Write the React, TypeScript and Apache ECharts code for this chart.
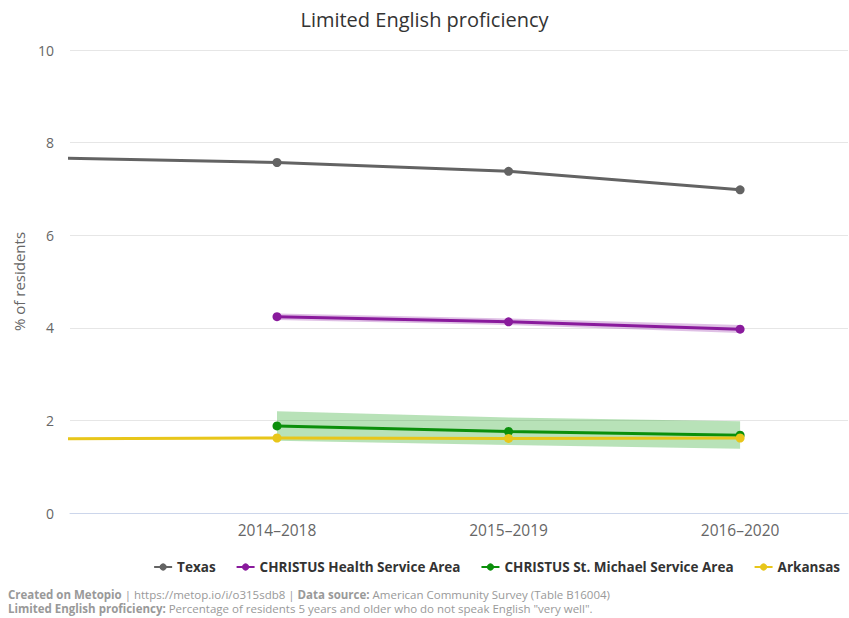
import React, { useEffect, useRef } from "react";
import * as echarts from "echarts";

const categories = ["2013–2017", "2014–2018", "2015–2019", "2016–2020"];
const texas = [7.67, 7.57, 7.38, 6.98];
const healthArea = [null, 4.24, 4.13, 3.97];
const healthLow = [null, 4.17, 4.06, 3.89];
const healthHigh = [null, 4.31, 4.2, 4.06];
const stMichael = [null, 1.88, 1.76, 1.68];
const stMichaelLow = [null, 1.56, 1.47, 1.39];
const stMichaelHigh = [null, 2.2, 2.06, 1.98];
const arkansas = [1.6, 1.62, 1.61, 1.62];
const arkansasLow = [1.58, 1.6, 1.59, 1.6];
const arkansasHigh = [1.62, 1.64, 1.63, 1.64];
const yTicks = [0, 2, 4, 6, 8, 10];

const FONT = "'Open Sans', 'Noto Sans', sans-serif";

function pairs(vals: (number | null)[]) {
  return vals.map((v, i) => [i, v]).filter((p) => p[1] !== null);
}

function bandSeries(low: (number | null)[], high: (number | null)[], color: string) {
  const idx = low.map((v, i) => (v === null ? -1 : i)).filter((i) => i >= 0);
  return {
    type: "custom",
    silent: true,
    z: 1,
    clip: true,
    data: idx.map((i) => [i, low[i], high[i]]),
    renderItem: (params: any, api: any) => {
      if (params.dataIndex !== 0) return null;
      const top = idx.map((i) => api.coord([i, high[i]]));
      const bot = idx.map((i) => api.coord([i, low[i]])).reverse();
      return {
        type: "polygon",
        shape: { points: top.concat(bot) },
        style: { fill: color },
      };
    },
  };
}

function lineSeries(name: string, vals: (number | null)[], color: string) {
  return {
    name,
    type: "line",
    data: pairs(vals),
    z: 3,
    symbol: "circle",
    symbolSize: 9,
    clip: true,
    lineStyle: { width: 3, color },
    itemStyle: { color },
  };
}

export default function App() {
  const ref = useRef<HTMLDivElement>(null);
  useEffect(() => {
    const chart = echarts.init(ref.current!, null, { renderer: "svg" });
    chart.setOption({
      animation: false,
      textStyle: { fontFamily: FONT },
      title: {
        text: "Limited English proficiency",
        left: "center",
        top: 4,
        textStyle: { fontFamily: FONT, fontSize: 20, fontWeight: "normal", color: "#333" },
      },
      grid: { left: 70, right: 1, top: 50, bottom: 105, containLabel: false },
      xAxis: {
        type: "value",
        min: 0.106,
        max: 3.466,
        splitLine: { show: false },
        axisTick: { show: false },
        axisLine: { show: true, lineStyle: { color: "#ccd6eb", width: 1 } },
        axisLabel: {
          customValues: [1, 2, 3],
          formatter: (v: number) => categories[Math.round(v)] ?? "",
          color: "#666",
          fontSize: 15.5,
          margin: 9,
          fontFamily: FONT,
        },
      },
      yAxis: {
        type: "value",
        min: 0,
        max: 10,
        interval: 2,
        name: "% of residents",
        nameLocation: "middle",
        nameGap: 44,
        nameTextStyle: { color: "#666", fontSize: 15, fontFamily: FONT },
        axisLine: { show: false },
        axisTick: { show: false },
        splitLine: { lineStyle: { color: "#e6e6e6" } },
        axisLabel: {
          color: "#666",
          fontSize: 14,
          margin: 16,
          fontFamily: FONT,
          formatter: (v: number) => (yTicks.includes(v) ? String(v) : ""),
        },
      },
      legend: {
        right: 4,
        top: 555,
        itemWidth: 18,
        itemHeight: 9,
        itemGap: 20,
        data: ["Texas", "CHRISTUS Health Service Area", "CHRISTUS St. Michael Service Area", "Arkansas"],
        textStyle: { color: "#333", fontSize: 13.5, fontWeight: "bold", fontFamily: FONT },
      },
      graphic: [
        {
          type: "text",
          left: 8,
          top: 587,
          style: {
            text: "{b|Created on Metopio} | https://metop.io/i/o315sdb8 | {b|Data source:} American Community Survey (Table B16004)\n{b|Limited English proficiency:} Percentage of residents 5 years and older who do not speak English \"very well\".",
            fill: "#999",
            fontSize: 11.5,
            lineHeight: 14,
            fontFamily: FONT,
            rich: {
              b: { fontWeight: "bold", fill: "#999", fontSize: 11.5, fontFamily: FONT },
            },
          },
        },
      ],
      series: [
        bandSeries(healthLow, healthHigh, "rgba(140,30,160,0.28)"),
        bandSeries(stMichaelLow, stMichaelHigh, "rgba(20,160,20,0.3)"),
        bandSeries(arkansasLow, arkansasHigh, "rgba(230,200,25,0.3)"),
        lineSeries("Texas", texas, "#636363"),
        lineSeries("CHRISTUS Health Service Area", healthArea, "#891a9c"),
        lineSeries("CHRISTUS St. Michael Service Area", stMichael, "#0b8f0b"),
        lineSeries("Arkansas", arkansas, "#e8c61a"),
      ],
    });
    return () => chart.dispose();
  }, []);
  return <div ref={ref} style={{ width: 849, height: 618, position: "absolute", left: 0, top: 0 }} />;
}
